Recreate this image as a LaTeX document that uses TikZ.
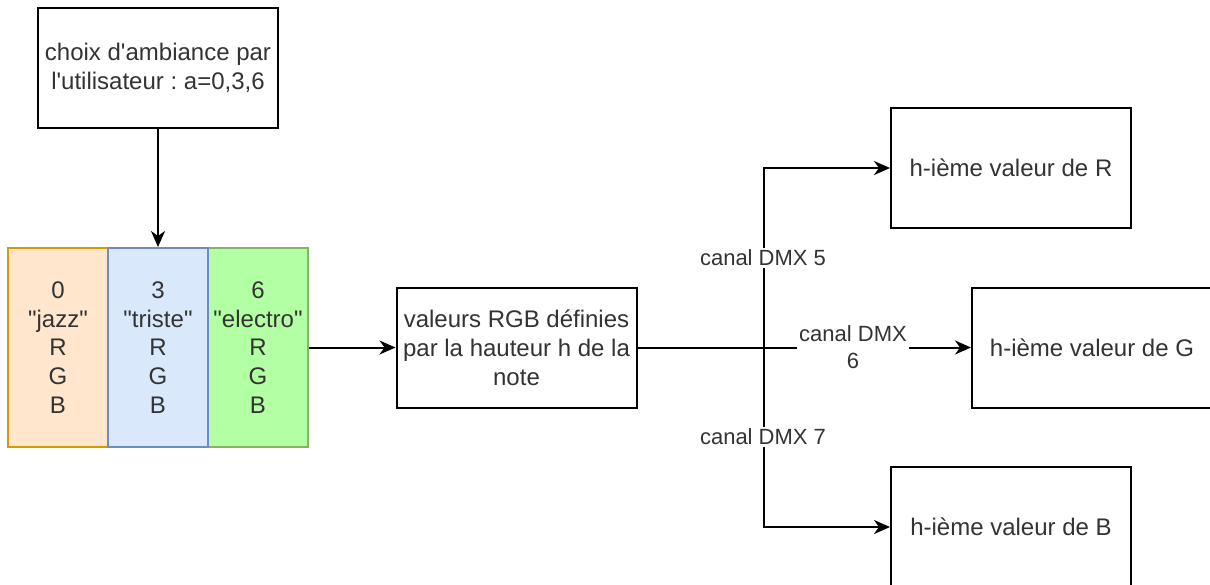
\documentclass[tikz,border=0pt]{standalone}
\usepackage{fontspec}
\setmainfont{Liberation Sans}
\usetikzlibrary{arrows.meta}
\frenchspacing
\definecolor{orfill}{HTML}{FFE6CC}
\definecolor{ordraw}{HTML}{D79B00}
\definecolor{blfill}{HTML}{DAE8FC}
\definecolor{bldraw}{HTML}{6C8EBF}
\definecolor{grfill}{HTML}{B3FFA3}
\definecolor{grdraw}{HTML}{82B366}
\newcommand{\dq}{\textquotedbl}
\tikzset{
  box/.style={draw=black, line width=2pt, fill=white, minimum width=240pt, minimum height=120pt, inner sep=0pt, align=center, font=\fontsize{24}{28.8}\selectfont, text=black!80},
  cell/.style={line width=2pt, minimum width=100pt, minimum height=199pt, inner sep=0pt, align=center, font=\fontsize{24}{28.8}\selectfont, text=black!80},
  lbl/.style={fill=white, inner sep=2pt, align=center, font=\fontsize{22}{26.4}\selectfont, text=black!80},
  arr/.style={line width=2pt, -{Stealth[length=16pt, width=14pt, inset=5pt]}},
  ln/.style={line width=2pt}
}
\begin{document}
\begin{tikzpicture}[x=1pt, y=-1pt]
\useasboundingbox (0,0) rectangle (1210,584);
\node[box] (top) at (158,68) {choix d\textquotesingle ambiance par\\l\textquotesingle utilisateur : a=0,3,6};
\node[cell, draw=ordraw, fill=orfill] (c0) at (58,347.5) {0\\\dq jazz\dq\\R\\G\\B};
\node[cell, draw=grdraw, fill=grfill] (c6) at (258,347.5) {6\\\dq electro\dq\\R\\G\\B};
\node[cell, draw=bldraw, fill=blfill] (c3) at (158,347.5) {3\\\dq triste\dq\\R\\G\\B};
\node[box] (val) at (516.5,347.5) {valeurs RGB définies\\par la hauteur h de la\\note};
\node[box] (R) at (1011,168) {h-ième valeur de R};
\node[box] (G) at (1092,347.5) {h-ième valeur de G};
\node[box] (B) at (1011,527) {h-ième valeur de B};
\coordinate (jx) at (764,0);
\draw[arr] (top.south) -- (c3.north);
\draw[arr] (c6.east) -- (val.west);
\draw[arr] (val.east) -- (val.east -| jx) |- (R.west);
\draw[arr] (val.east) -- (val.east -| jx) |- (B.west);
\draw[arr] (val.east) -- (G.west);
\node[lbl] (l5) at (763,258) {canal DMX 5};
\node[lbl] (l7) at (763,437) {canal DMX 7};
\node[lbl] (l6) at (853,347) {canal DMX\\6};
\end{tikzpicture}
\end{document}
